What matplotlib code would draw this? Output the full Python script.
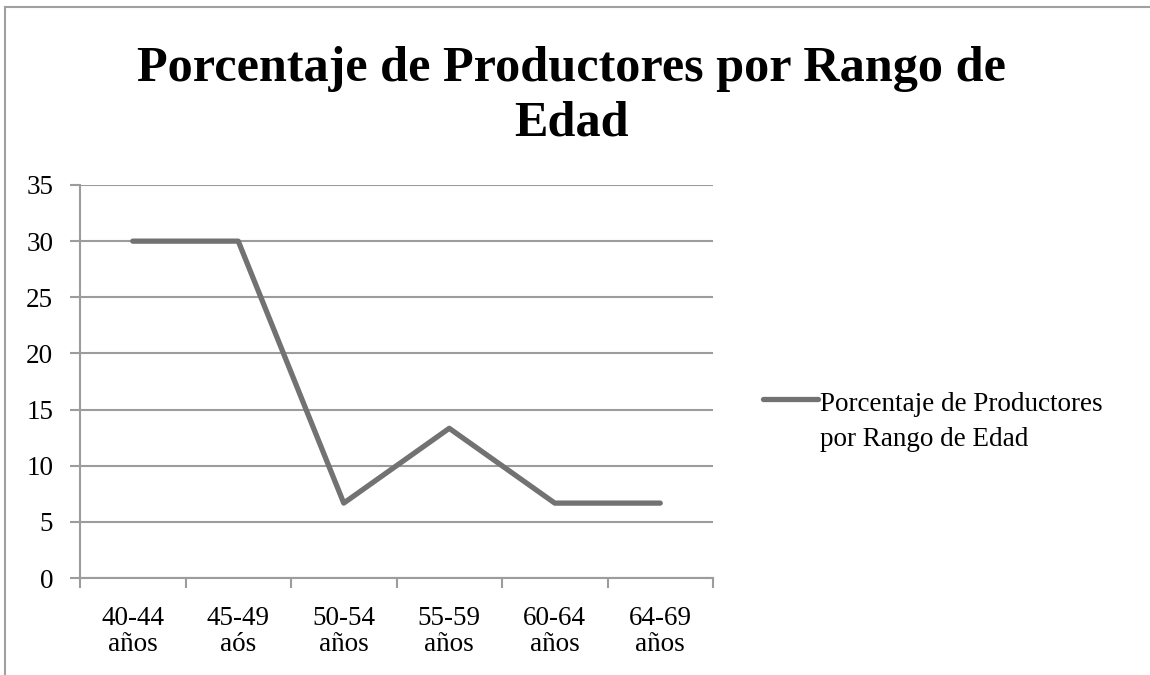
import matplotlib
matplotlib.use("Agg")
import numpy as np
import matplotlib.pyplot as plt
from matplotlib.lines import Line2D
from matplotlib.legend_handler import HandlerLine2D

categories = ["40-44\naños", "45-49\naós", "50-54\naños", "55-59\naños", "60-64\naños", "64-69\naños"]
values = [30, 30, 6.67, 13.33, 6.67, 6.67]
series_name = "Porcentaje de Productores\npor Rango de Edad"
title = "Porcentaje de Productores por Rango de\nEdad"
yticks = [0, 5, 10, 15, 20, 25, 30, 35]

plt.rcParams['font.family'] = ['Liberation Serif', 'DejaVu Serif']


class FirstLineHandler(HandlerLine2D):
    def create_artists(self, legend, orig_handle, xdescent, ydescent, width, height, fontsize, trans):
        arts = super().create_artists(legend, orig_handle, xdescent, ydescent, width, height, fontsize, trans)
        for a in arts:
            a.set_ydata(np.asarray(a.get_ydata(), dtype=float) + 0.86 * fontsize)
        return arts


fig = plt.figure(figsize=(11.5, 6.75), dpi=100)
ax = fig.add_axes([80/1150, 1-578/675, (713-80)/1150, (578-185)/675])

x = list(range(len(categories)))
line_color = "#727272"
grid_color = "#9c9c9c"
ln, = ax.plot(x, values, color=line_color, lw=3.8, solid_capstyle='round', solid_joinstyle='round',
              label=series_name, zorder=3)

ax.set_xlim(-0.5, len(categories) - 0.5)
ax.set_ylim(0, 35)
ax.set_yticks(yticks)
ax.set_yticklabels([str(t) for t in yticks])
ax.set_xticks(x)
ax.set_xticklabels(categories, linespacing=1.05)
ax.set_xticks([i - 0.5 for i in range(len(categories) + 1)], minor=True)
ax.tick_params(axis='x', which='major', length=0, pad=20, labelsize=19.5)
ax.tick_params(axis='x', which='minor', length=7, width=1.5, color=grid_color, direction='out')
ax.tick_params(axis='y', length=7.2, width=1.5, color=grid_color, pad=12, labelsize=19.5)

ax.grid(axis='y', color=grid_color, lw=1.5)
ax.set_axisbelow(True)
for s in ['top', 'right']:
    ax.spines[s].set_visible(False)
for s in ['left', 'bottom']:
    ax.spines[s].set_color(grid_color)
    ax.spines[s].set_linewidth(1.5)

leg = ax.legend(handler_map={ln: FirstLineHandler()},
                loc='upper left', bbox_to_anchor=(752/1150, 1-381/675), bbox_transform=fig.transFigure,
                frameon=False, fontsize=19.5, handlelength=2.05, handletextpad=0.05, borderaxespad=0)
for t in leg.get_texts():
    t.set_linespacing(1.55)

fig.text(0.497, 1-96/675, title, ha='center', va='center', fontsize=36.2, fontweight='bold',
         linespacing=1.24)

fig.add_artist(Line2D([5/1150, 5/1150], [0, 1-7/675], transform=fig.transFigure, color="#a0a0a0", lw=1.5))
fig.add_artist(Line2D([5/1150, 1], [1-7/675, 1-7/675], transform=fig.transFigure, color="#a0a0a0", lw=1.5))

fig.savefig("out.png", dpi=100)
